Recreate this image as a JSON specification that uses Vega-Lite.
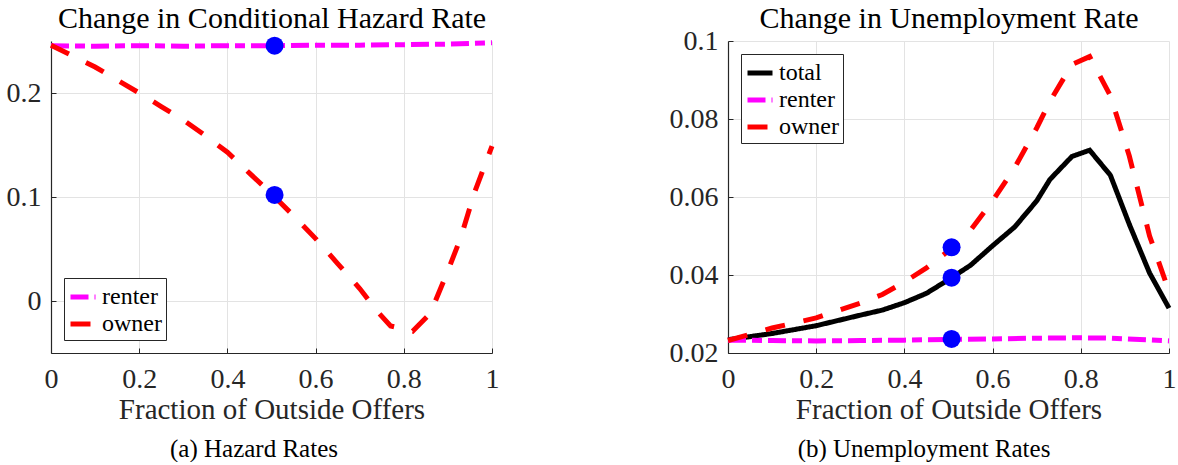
{
  "$schema": "https://vega.github.io/schema/vega-lite/v6.json",
  "background": "white",
  "padding": {"left": 6, "top": 3, "right": 5, "bottom": 0},
  "datasets": {
    "hazard": [
      {"x": 0, "value": 0.2455, "series": "renter"},
      {"x": 0.1, "value": 0.245, "series": "renter"},
      {"x": 0.2, "value": 0.2455, "series": "renter"},
      {"x": 0.3, "value": 0.245, "series": "renter"},
      {"x": 0.4, "value": 0.2455, "series": "renter"},
      {"x": 0.5, "value": 0.2455, "series": "renter"},
      {"x": 0.6, "value": 0.246, "series": "renter"},
      {"x": 0.7, "value": 0.246, "series": "renter"},
      {"x": 0.8, "value": 0.2465, "series": "renter"},
      {"x": 0.9, "value": 0.247, "series": "renter"},
      {"x": 1.0, "value": 0.2483, "series": "renter"},
      {"x": 0, "value": 0.246, "series": "owner"},
      {"x": 0.1, "value": 0.225, "series": "owner"},
      {"x": 0.2, "value": 0.2, "series": "owner"},
      {"x": 0.25, "value": 0.187, "series": "owner"},
      {"x": 0.3, "value": 0.174, "series": "owner"},
      {"x": 0.35, "value": 0.159, "series": "owner"},
      {"x": 0.4, "value": 0.143, "series": "owner"},
      {"x": 0.45, "value": 0.123, "series": "owner"},
      {"x": 0.5, "value": 0.103, "series": "owner"},
      {"x": 0.55, "value": 0.082, "series": "owner"},
      {"x": 0.6, "value": 0.06, "series": "owner"},
      {"x": 0.65, "value": 0.036, "series": "owner"},
      {"x": 0.7, "value": 0.012, "series": "owner"},
      {"x": 0.74, "value": -0.01, "series": "owner"},
      {"x": 0.77, "value": -0.024, "series": "owner"},
      {"x": 0.82, "value": -0.029, "series": "owner"},
      {"x": 0.86, "value": -0.012, "series": "owner"},
      {"x": 0.9, "value": 0.029, "series": "owner"},
      {"x": 0.93, "value": 0.062, "series": "owner"},
      {"x": 0.96, "value": 0.104, "series": "owner"},
      {"x": 1.0, "value": 0.149, "series": "owner"}
    ],
    "hazardPts": [
      {"x": 0.507, "value": 0.2455},
      {"x": 0.507, "value": 0.102}
    ],
    "unemp": [
      {"x": 0, "value": 0.0234, "series": "total"},
      {"x": 0.1, "value": 0.025, "series": "total"},
      {"x": 0.2, "value": 0.027, "series": "total"},
      {"x": 0.3, "value": 0.0297, "series": "total"},
      {"x": 0.35, "value": 0.031, "series": "total"},
      {"x": 0.4, "value": 0.0329, "series": "total"},
      {"x": 0.45, "value": 0.0353, "series": "total"},
      {"x": 0.5, "value": 0.0388, "series": "total"},
      {"x": 0.55, "value": 0.0425, "series": "total"},
      {"x": 0.6, "value": 0.0475, "series": "total"},
      {"x": 0.65, "value": 0.0523, "series": "total"},
      {"x": 0.7, "value": 0.059, "series": "total"},
      {"x": 0.73, "value": 0.0645, "series": "total"},
      {"x": 0.78, "value": 0.0704, "series": "total"},
      {"x": 0.82, "value": 0.072, "series": "total"},
      {"x": 0.867, "value": 0.0656, "series": "total"},
      {"x": 0.91, "value": 0.053, "series": "total"},
      {"x": 0.956, "value": 0.0405, "series": "total"},
      {"x": 1.0, "value": 0.0315, "series": "total"},
      {"x": 0, "value": 0.0233, "series": "renter"},
      {"x": 0.1, "value": 0.0232, "series": "renter"},
      {"x": 0.2, "value": 0.0231, "series": "renter"},
      {"x": 0.3, "value": 0.0232, "series": "renter"},
      {"x": 0.4, "value": 0.0233, "series": "renter"},
      {"x": 0.5, "value": 0.0235, "series": "renter"},
      {"x": 0.6, "value": 0.0236, "series": "renter"},
      {"x": 0.7, "value": 0.0238, "series": "renter"},
      {"x": 0.8, "value": 0.0239, "series": "renter"},
      {"x": 0.87, "value": 0.0238, "series": "renter"},
      {"x": 0.95, "value": 0.0234, "series": "renter"},
      {"x": 1.0, "value": 0.0231, "series": "renter"},
      {"x": 0, "value": 0.0232, "series": "owner"},
      {"x": 0.1, "value": 0.0264, "series": "owner"},
      {"x": 0.2, "value": 0.029, "series": "owner"},
      {"x": 0.3, "value": 0.0328, "series": "owner"},
      {"x": 0.35, "value": 0.035, "series": "owner"},
      {"x": 0.4, "value": 0.0382, "series": "owner"},
      {"x": 0.45, "value": 0.0418, "series": "owner"},
      {"x": 0.5, "value": 0.0462, "series": "owner"},
      {"x": 0.55, "value": 0.0515, "series": "owner"},
      {"x": 0.6, "value": 0.059, "series": "owner"},
      {"x": 0.65, "value": 0.0675, "series": "owner"},
      {"x": 0.7, "value": 0.0777, "series": "owner"},
      {"x": 0.73, "value": 0.0845, "series": "owner"},
      {"x": 0.78, "value": 0.094, "series": "owner"},
      {"x": 0.82, "value": 0.096, "series": "owner"},
      {"x": 0.867, "value": 0.086, "series": "owner"},
      {"x": 0.91, "value": 0.0705, "series": "owner"},
      {"x": 0.956, "value": 0.05, "series": "owner"},
      {"x": 1.0, "value": 0.0358, "series": "owner"}
    ],
    "unempPts": [
      {"x": 0.507, "value": 0.0471},
      {"x": 0.507, "value": 0.0393},
      {"x": 0.507, "value": 0.0236}
    ]
  },
  "hconcat": [
    {
      "width": 441,
      "height": 312,
      "title": {"text": "(a)  Hazard Rates", "orient": "bottom", "fontSize": 25, "offset": 13, "anchor": "middle", "frame": "bounds"},
      "resolve": {"axis": {"x": "independent"}},
      "layer": [
        {
          "data": {"name": "hazard"},
          "mark": {"type": "line", "strokeWidth": 5},
          "encoding": {
            "x": {"field": "x", "type": "quantitative", "scale": {"domain": [0, 1], "nice": false}, "axis": {"values": [0, 0.2, 0.4, 0.6, 0.8, 1], "format": "~g", "title": "Fraction of Outside Offers"}},
            "y": {"field": "value", "type": "quantitative", "scale": {"domain": [-0.05, 0.25], "nice": false, "zero": false}, "axis": {"values": [0, 0.1, 0.2], "format": "~g", "title": null}},
            "color": {"field": "series", "type": "nominal", "scale": {"domain": ["renter", "owner"], "range": ["#ff00ff", "#ff0000"]}, "legend": {"orient": "bottom-left", "title": null}},
            "strokeDash": {"field": "series", "type": "nominal", "scale": {"domain": ["renter", "owner"], "range": [[18, 6, 10, 6], [20, 19]]}, "legend": {"orient": "bottom-left", "title": null}}
          }
        },
        {
          "data": {"name": "hazardPts"},
          "mark": {"type": "point", "filled": true, "size": 324, "color": "#0000ff", "opacity": 1},
          "encoding": {
            "x": {"field": "x", "type": "quantitative", "axis": {"orient": "top", "title": "Change in Conditional Hazard Rate", "labels": false, "ticks": false, "domain": false, "grid": false, "titleFontSize": 30, "titleColor": "#000000", "titlePadding": 8}},
            "y": {"field": "value", "type": "quantitative"}
          }
        }
      ]
    },
    {
      "width": 441,
      "height": 312,
      "title": {"text": "(b)  Unemployment Rates", "orient": "bottom", "fontSize": 25, "offset": 13, "anchor": "middle", "frame": "bounds"},
      "resolve": {"axis": {"x": "independent"}},
      "layer": [
        {
          "data": {"name": "unemp"},
          "mark": {"type": "line", "strokeWidth": 5},
          "encoding": {
            "x": {"field": "x", "type": "quantitative", "scale": {"domain": [0, 1], "nice": false}, "axis": {"values": [0, 0.2, 0.4, 0.6, 0.8, 1], "format": "~g", "title": "Fraction of Outside Offers"}},
            "y": {"field": "value", "type": "quantitative", "scale": {"domain": [0.02, 0.1], "nice": false, "zero": false}, "axis": {"values": [0.02, 0.04, 0.06, 0.08, 0.1], "format": "~g", "title": null}},
            "color": {"field": "series", "type": "nominal", "scale": {"domain": ["total", "renter", "owner"], "range": ["#000000", "#ff00ff", "#ff0000"]}, "legend": {"orient": "top-left", "title": null}},
            "strokeDash": {"field": "series", "type": "nominal", "scale": {"domain": ["total", "renter", "owner"], "range": [[1, 0], [18, 6, 10, 6], [20, 19]]}, "legend": {"orient": "top-left", "title": null}}
          }
        },
        {
          "data": {"name": "unempPts"},
          "mark": {"type": "point", "filled": true, "size": 324, "color": "#0000ff", "opacity": 1},
          "encoding": {
            "x": {"field": "x", "type": "quantitative", "axis": {"orient": "top", "title": "Change in Unemployment Rate", "labels": false, "ticks": false, "domain": false, "grid": false, "titleFontSize": 30, "titleColor": "#000000", "titlePadding": 8}},
            "y": {"field": "value", "type": "quantitative"}
          }
        }
      ]
    }
  ],
  "spacing": 167,
  "resolve": {
    "scale": {"x": "independent", "y": "independent", "color": "independent", "strokeDash": "independent"},
    "legend": {"color": "independent", "strokeDash": "independent"}
  },
  "config": {
    "view": {"stroke": null},
    "font": "Liberation Serif",
    "title": {"font": "Liberation Serif", "fontSize": 29, "fontWeight": "normal", "color": "#000000"},
    "axis": {
      "labelFont": "Liberation Serif",
      "labelFontSize": 28,
      "labelColor": "#262626",
      "labelPadding": 15,
      "titleFont": "Liberation Serif",
      "titleFontSize": 29,
      "titleFontWeight": "normal",
      "titleColor": "#262626",
      "domainColor": "#262626",
      "domainWidth": 1.2,
      "tickColor": "#262626",
      "tickSize": -5,
      "gridColor": "#e3e3e3",
      "gridWidth": 1,
      "labelFlush": false
    },
    "axisX": {"labelPadding": 17, "titlePadding": 2},
    "legend": {
      "offset": 13,
      "strokeColor": "#262626",
      "fillColor": "#ffffff",
      "padding": 4,
      "labelFont": "Liberation Serif",
      "labelFontSize": 24,
      "labelColor": "#000000",
      "labelOffset": 4,
      "rowPadding": 0,
      "symbolType": "stroke",
      "symbolSize": 625,
      "symbolStrokeWidth": 5,
      "cornerRadius": 0
    }
  }
}
